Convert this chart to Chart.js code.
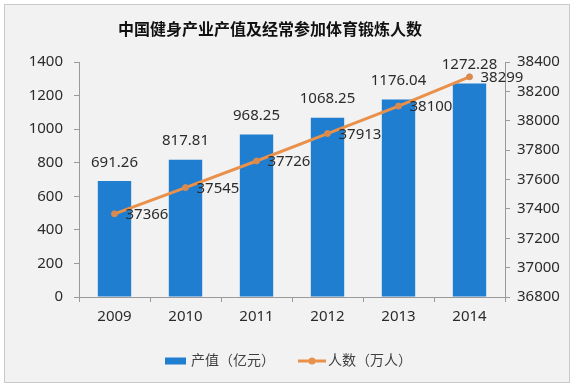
<!DOCTYPE html>
<html lang="zh">
<head>
    <meta charset="UTF-8">
    <title>中国健身产业产值及经常参加体育锻炼人数</title>
    <script src="https://cdn.jsdelivr.net/npm/chart.js"></script>
    <style>
        body { margin: 0; background: #fff; }
        #wrap { width: 574px; height: 387px; }
    </style>
</head>
<body>
    <div id="wrap"><canvas id="chart"></canvas></div>

    <script>
        const years = ["2009", "2010", "2011", "2012", "2013", "2014"];
        const output = [691.26, 817.81, 968.25, 1068.25, 1176.04, 1272.28];   // 产值（亿元）
        const people = [37366, 37545, 37726, 37913, 38100, 38299];            // 人数（万人）
        const leftTicks = [0, 200, 400, 600, 800, 1000, 1200, 1400];
        const rightTicks = [36800, 37000, 37200, 37400, 37600, 37800, 38000, 38200, 38400];
        const titleText = "中国健身产业产值及经常参加体育锻炼人数";

        const FONT = "'Noto Sans', 'Noto Sans CJK SC', sans-serif";
        const BLUE = "#1f7ed0";
        const ORANGE = "#e9904a";
        const TEXT = "#2b2b2b";

        // light gray card with border, plus the title (sits a bit left of centre)
        const bgPlugin = {
            id: "bg",
            beforeDraw(chart) {
                const c = chart.ctx;
                c.save();
                c.fillStyle = "#ffffff";
                c.fillRect(0, 0, chart.width, chart.height);
                c.fillStyle = "#f2f2f2";
                c.strokeStyle = "#c9c9c9";
                c.fillRect(4.5, 4.5, chart.width - 9, chart.height - 9);
                c.strokeRect(4.5, 4.5, chart.width - 9, chart.height - 9);
                c.font = "bold 16px 'Noto Sans CJK SC', sans-serif";
                c.fillStyle = "#111111";
                c.textAlign = "center";
                c.textBaseline = "middle";
                c.fillText(titleText, 270, 29);
                c.restore();
            }
        };

        // value labels
        const labelPlugin = {
            id: "labels",
            afterDatasetsDraw(chart) {
                const c = chart.ctx;
                c.save();
                c.font = "15px " + FONT;
                c.fillStyle = TEXT;
                chart.getDatasetMeta(1).data.forEach((bar, i) => {
                    c.textAlign = "center";
                    c.textBaseline = "bottom";
                    c.fillText(output[i].toFixed(2), bar.x, bar.y - 11);
                });
                chart.getDatasetMeta(0).data.forEach((pt, i) => {
                    c.textAlign = "left";
                    c.textBaseline = "middle";
                    c.fillText(String(people[i]), pt.x + 11, pt.y + 1);
                });
                c.restore();
            }
        };

        // bottom legend
        const legendPlugin = {
            id: "customLegend",
            afterDraw(chart) {
                const c = chart.ctx;
                const y = 361;
                c.save();
                c.font = "14px " + FONT;
                c.textBaseline = "middle";
                c.textAlign = "left";
                c.fillStyle = BLUE;
                c.fillRect(165, y - 3.5, 21, 7);
                c.fillStyle = "#404040";
                c.fillText(chart.data.datasets[1].label, 191, y);
                c.strokeStyle = ORANGE;
                c.lineWidth = 3;
                c.beginPath();
                c.moveTo(298, y);
                c.lineTo(326, y);
                c.stroke();
                c.fillStyle = ORANGE;
                c.beginPath();
                c.arc(312, y, 3.5, 0, Math.PI * 2);
                c.fill();
                c.fillStyle = "#404040";
                c.fillText(chart.data.datasets[0].label, 328, y);
                c.restore();
            }
        };

        const axisGrid = {
            drawOnChartArea: false,
            drawTicks: true,
            tickLength: 5,
            color: "#9a9a9a"
        };
        const tickFont = { size: 15, family: FONT };

        new Chart(document.getElementById("chart"), {
            type: "bar",
            data: {
                labels: years,
                datasets: [
                    {
                        label: "人数（万人）",
                        type: "line",
                        data: people,
                        yAxisID: "y2",
                        borderColor: ORANGE,
                        backgroundColor: ORANGE,
                        borderWidth: 3,
                        pointRadius: 3,
                        pointBackgroundColor: "#d98a4f",
                        pointBorderColor: "#d98a4f",
                        pointBorderWidth: 1,
                        tension: 0,
                        order: 0
                    },
                    {
                        label: "产值（亿元）",
                        type: "bar",
                        data: output,
                        yAxisID: "y",
                        backgroundColor: BLUE,
                        categoryPercentage: 1,
                        barPercentage: 0.47,
                        order: 1
                    }
                ]
            },
            options: {
                responsive: true,
                maintainAspectRatio: false,
                animation: false,
                layout: { padding: { top: 62, left: 0, right: 0, bottom: 50 } },
                scales: {
                    x: {
                        grid: axisGrid,
                        border: { display: true, color: "#9a9a9a" },
                        ticks: { color: TEXT, font: tickFont, padding: 6 },
                        afterFit(s) { s.height = 40; }
                    },
                    y: {
                        type: "linear",
                        position: "left",
                        min: 0,
                        max: 1400,
                        afterBuildTicks(s) { s.ticks = leftTicks.map(v => ({ value: v })); },
                        grid: axisGrid,
                        border: { display: true, color: "#9a9a9a" },
                        ticks: { color: TEXT, font: tickFont, padding: 11, callback: v => String(v) },
                        afterFit(s) { s.width = 79; }
                    },
                    y2: {
                        type: "linear",
                        position: "right",
                        min: 36800,
                        max: 38400,
                        afterBuildTicks(s) { s.ticks = rightTicks.map(v => ({ value: v })); },
                        grid: axisGrid,
                        border: { display: true, color: "#9a9a9a" },
                        ticks: { color: TEXT, font: tickFont, padding: 7, callback: v => String(v) },
                        afterFit(s) { s.width = 69; }
                    }
                },
                plugins: {
                    legend: { display: false },
                    tooltip: { enabled: false },
                    title: { display: false }
                }
            },
            plugins: [bgPlugin, labelPlugin, legendPlugin]
        });
    </script>
</body>
</html>
